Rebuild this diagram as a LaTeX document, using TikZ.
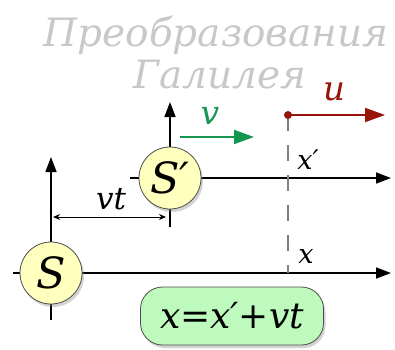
\documentclass[tikz,border=0pt]{standalone}
\usepackage{fontspec}
\setmainfont{DejaVu Serif}
\usetikzlibrary{arrows.meta,shadows}
\definecolor{titlegray}{RGB}{200,200,200}
\definecolor{circfill}{RGB}{255,255,190}
\definecolor{boxfill}{RGB}{190,250,190}
\definecolor{vgreen}{RGB}{20,150,80}
\definecolor{ured}{RGB}{150,20,10}
\begin{document}
\begin{tikzpicture}[x=1pt,y=-1pt,
  axis/.style={line width=1.6pt,-{Triangle[length=15pt,width=11pt]}},
  tick/.style={line width=1.6pt},
  frame/.style={circle,draw=black!70,line width=0.8pt,fill=circfill,minimum size=62pt,inner sep=0pt,
    drop shadow={opacity=0.35,shadow xshift=2pt,shadow yshift=-3pt},font=\fontsize{43}{43}\selectfont\itshape},
  lbl/.style={inner sep=0pt,font=\itshape}]
\useasboundingbox (0,0) rectangle (395,349);
% title
\node[lbl,text=titlegray,font=\fontsize{39}{39}\selectfont\itshape] (t1) at (216,35) {Преобразования};
\node[lbl,text=titlegray,font=\fontsize{39}{39}\selectfont\itshape] (t2) at (220,75) {Галилея};
% coordinates
\coordinate (sc) at (51,273);
\coordinate (spc) at (170,178);
\coordinate (stop) at (51,157);
\coordinate (sleft) at (13,273);
\coordinate (sbot) at (51,320);
\coordinate (xend) at (391,273);
\coordinate (sptop) at (170,102);
\coordinate (spleft) at (130,178);
\coordinate (spbot) at (170,227);
\coordinate (xpend) at (391,178);
% axes behind circles
\draw[tick] (sleft) -- (sc) -- (sbot);
\draw[axis] (sc) -- (stop);
\draw[axis] (sc) -- (xend);
\draw[tick] (spleft) -- (spc) -- (spbot);
\draw[axis] (spc) -- (sptop);
\draw[axis] (spc) -- (xpend);
% dashed line
\coordinate (dot) at (288,115);
\coordinate (dbot) at (288,273);
\draw[gray,line width=1.2pt,dash pattern=on 16pt off 14pt] (dot) -- (dbot);
% circles
\node[frame] (S) at (sc) {S};
\node[frame] (Sp) at (spc) {S′};
% vt
\coordinate (vta) at (53,217);
\coordinate (vtb) at (166,217);
\draw[line width=0.8pt,{Stealth[length=7pt,width=6pt]}-{Stealth[length=7pt,width=6pt]}] (vta) -- (vtb);
\node[lbl,font=\fontsize{31}{31}\selectfont\itshape] (vt) at (111,199) {vt};
% v arrow
\coordinate (va) at (180,137);
\coordinate (vb) at (254,137);
\draw[vgreen,line width=2pt,-{Triangle[length=20pt,width=14pt]}] (va) -- (vb);
\node[lbl,text=vgreen,font=\fontsize{33}{33}\selectfont\itshape] (v) at (210,116) {v};
% u arrow
\coordinate (ub) at (385,115);
\fill[ured] (dot) circle (4pt);
\draw[ured,line width=2pt,-{Triangle[length=20pt,width=14pt]}] (dot) -- (ub);
\node[lbl,text=ured,font=\fontsize{34}{34}\selectfont\itshape] (u) at (334,92) {u};
% axis labels
\node[lbl,font=\fontsize{27}{27}\selectfont\itshape] (xp) at (308,160) {x′};
\node[lbl,font=\fontsize{27}{27}\selectfont\itshape] (x) at (306,256) {x};
% formula
\node[draw=black!70,line width=0.8pt,fill=boxfill,rounded corners=22pt,minimum width=183pt,minimum height=58pt,
  drop shadow={opacity=0.35,shadow xshift=2pt,shadow yshift=-3pt},
  font=\fontsize{36}{36}\selectfont\itshape] (f) at (232,316) {x=x′+vt};
\end{tikzpicture}
\end{document}
